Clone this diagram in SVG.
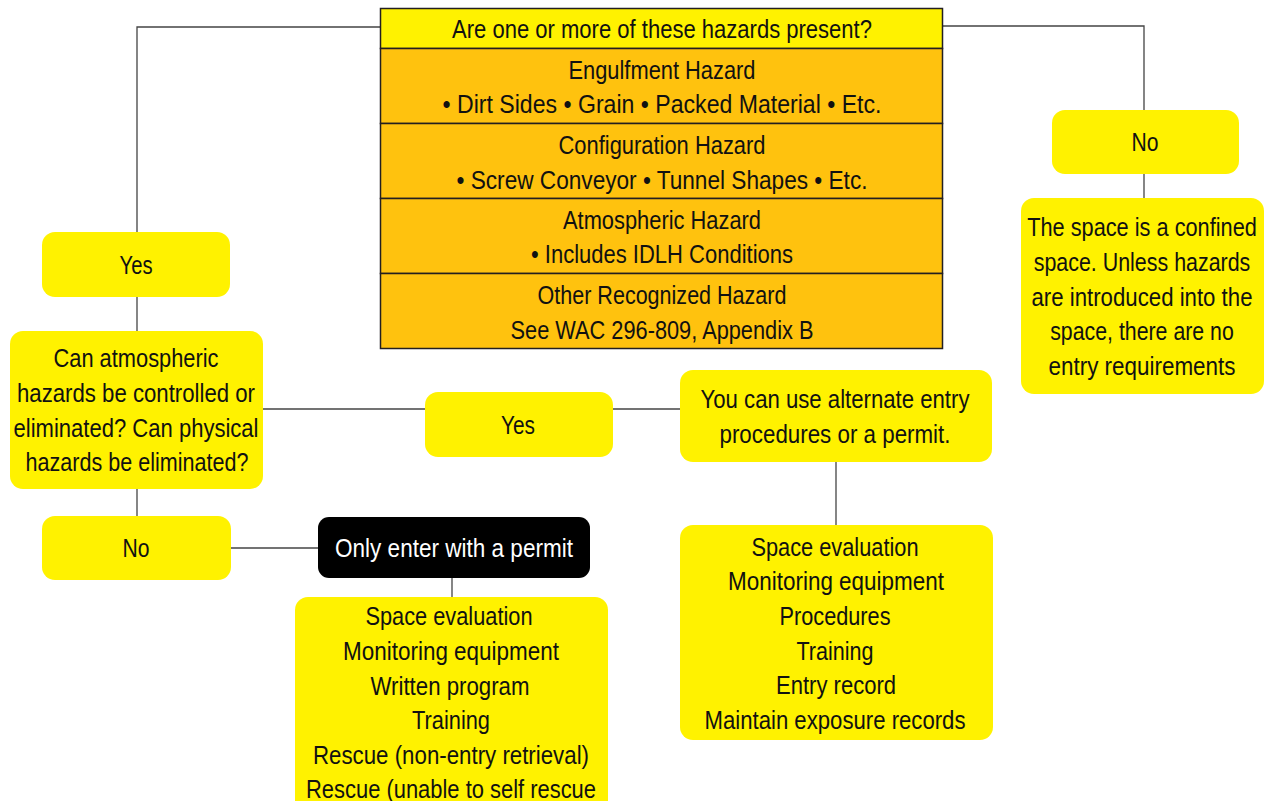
<svg xmlns="http://www.w3.org/2000/svg" width="1267" height="801" viewBox="0 0 1267 801">
<style>
text{font-family:"Liberation Sans Narrow","Liberation Sans",Arial,sans-serif;font-size:25px;fill:#111;text-anchor:middle}
.y{fill:#FFF200}
.o{fill:#FFC20E;stroke:#231F20;stroke-width:1.5}
.h{fill:#FFF200;stroke:#231F20;stroke-width:1.5}
.k{fill:#000}
.w{fill:#fff}
.c{fill:none;stroke:#444;stroke-width:1.3}
</style>
<rect width="1267" height="801" fill="#fff"/>
<g id="connectors">
<path class="c" d="M380 27H137V232"/>
<path class="c" d="M943 26H1144V110"/>
<path class="c" d="M137 297V331"/>
<path class="c" d="M1144 174V198"/>
<path class="c" d="M263 409H425"/>
<path class="c" d="M613 409H680"/>
<path class="c" d="M836 462V525"/>
<path class="c" d="M137 489V516"/>
<path class="c" d="M231 548H318"/>
<path class="c" d="M452 578V597"/>
</g>
<g id="hazards">
<rect class="h" x="380.5" y="8.5" width="562" height="40"/>
<rect class="o" x="380.5" y="48.5" width="562" height="75"/>
<rect class="o" x="380.5" y="123.5" width="562" height="75"/>
<rect class="o" x="380.5" y="198.5" width="562" height="75"/>
<rect class="o" x="380.5" y="273.5" width="562" height="75"/>
<text x="662" y="38" textLength="420" lengthAdjust="spacingAndGlyphs">Are one or more of these hazards present?</text>
<text x="662" y="79" textLength="187" lengthAdjust="spacingAndGlyphs">Engulfment Hazard</text>
<text x="662" y="113" textLength="439" lengthAdjust="spacingAndGlyphs">• Dirt Sides • Grain • Packed Material • Etc.</text>
<text x="662" y="154" textLength="207" lengthAdjust="spacingAndGlyphs">Configuration Hazard</text>
<text x="662" y="189" textLength="411" lengthAdjust="spacingAndGlyphs">• Screw Conveyor • Tunnel Shapes • Etc.</text>
<text x="662" y="229" textLength="198" lengthAdjust="spacingAndGlyphs">Atmospheric Hazard</text>
<text x="662" y="263" textLength="262" lengthAdjust="spacingAndGlyphs">• Includes IDLH Conditions</text>
<text x="662" y="304" textLength="249" lengthAdjust="spacingAndGlyphs">Other Recognized Hazard</text>
<text x="662" y="339" textLength="303" lengthAdjust="spacingAndGlyphs">See WAC 296-809, Appendix B</text>
</g>
<g id="yes-left">
<rect class="y" x="42" y="232" width="188" height="65" rx="13"/>
<text x="136" y="274" textLength="33" lengthAdjust="spacingAndGlyphs">Yes</text>
</g>
<g id="question">
<rect class="y" x="10" y="331" width="253" height="158" rx="13"/>
<text x="136" y="367" textLength="165" lengthAdjust="spacingAndGlyphs">Can atmospheric</text>
<text x="136" y="402" textLength="238" lengthAdjust="spacingAndGlyphs">hazards be controlled or</text>
<text x="136" y="437" textLength="245" lengthAdjust="spacingAndGlyphs">eliminated? Can physical</text>
<text x="137" y="471" textLength="223" lengthAdjust="spacingAndGlyphs">hazards be eliminated?</text>
</g>
<g id="yes-mid">
<rect class="y" x="425" y="392" width="188" height="65" rx="13"/>
<text x="518" y="434" textLength="34" lengthAdjust="spacingAndGlyphs">Yes</text>
</g>
<g id="alternate">
<rect class="y" x="680" y="370" width="312" height="92" rx="13"/>
<text x="835" y="408" textLength="269" lengthAdjust="spacingAndGlyphs">You can use alternate entry</text>
<text x="835" y="443" textLength="231" lengthAdjust="spacingAndGlyphs">procedures or a permit.</text>
</g>
<g id="alt-list">
<rect class="y" x="680" y="525" width="313" height="215" rx="13"/>
<text x="835" y="556" textLength="167" lengthAdjust="spacingAndGlyphs">Space evaluation</text>
<text x="836" y="590" textLength="216" lengthAdjust="spacingAndGlyphs">Monitoring equipment</text>
<text x="835" y="625" textLength="111" lengthAdjust="spacingAndGlyphs">Procedures</text>
<text x="835" y="660" textLength="77" lengthAdjust="spacingAndGlyphs">Training</text>
<text x="836" y="694" textLength="120" lengthAdjust="spacingAndGlyphs">Entry record</text>
<text x="835" y="729" textLength="261" lengthAdjust="spacingAndGlyphs">Maintain exposure records</text>
</g>
<g id="no-left">
<rect class="y" x="42" y="516" width="189" height="64" rx="13"/>
<text x="136" y="557" textLength="27" lengthAdjust="spacingAndGlyphs">No</text>
</g>
<g id="permit">
<rect class="k" x="318" y="517" width="272" height="61" rx="11"/>
<text class="w" x="454" y="557" textLength="238" lengthAdjust="spacingAndGlyphs">Only enter with a permit</text>
</g>
<g id="permit-list">
<rect class="y" x="295" y="597" width="313" height="230" rx="13"/>
<text x="449" y="625" textLength="167" lengthAdjust="spacingAndGlyphs">Space evaluation</text>
<text x="451" y="660" textLength="216" lengthAdjust="spacingAndGlyphs">Monitoring equipment</text>
<text x="450" y="695" textLength="159" lengthAdjust="spacingAndGlyphs">Written program</text>
<text x="451" y="729" textLength="78" lengthAdjust="spacingAndGlyphs">Training</text>
<text x="451" y="764" textLength="276" lengthAdjust="spacingAndGlyphs">Rescue (non-entry retrieval)</text>
<text x="451" y="798" textLength="290" lengthAdjust="spacingAndGlyphs">Rescue (unable to self rescue</text>
</g>
<g id="no-right">
<rect class="y" x="1052" y="110" width="187" height="64" rx="13"/>
<text x="1145" y="151" textLength="27" lengthAdjust="spacingAndGlyphs">No</text>
</g>
<g id="confined">
<rect class="y" x="1021" y="198" width="243" height="196" rx="13"/>
<g transform="translate(1142 0) scale(0.87 1)">
<text x="0" y="236" textLength="264" lengthAdjust="spacingAndGlyphs">The space is a confined</text>
<text x="0" y="271" textLength="249" lengthAdjust="spacingAndGlyphs">space. Unless hazards</text>
<text x="0" y="306" textLength="254" lengthAdjust="spacingAndGlyphs">are introduced into the</text>
<text x="0" y="340" textLength="211" lengthAdjust="spacingAndGlyphs">space, there are no</text>
<text x="0" y="375" textLength="215" lengthAdjust="spacingAndGlyphs">entry requirements</text>
</g>
</g>
</svg>
